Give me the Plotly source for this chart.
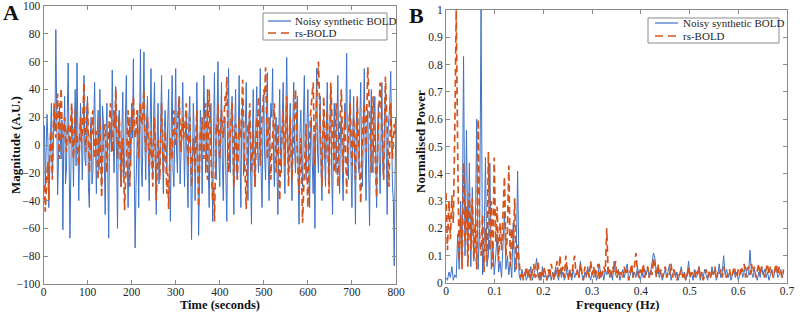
import numpy as np
import plotly.graph_objects as go

# ---------------- data ----------------
time_step = 2  # seconds between samples in panel A
noisy_bold = [
    5, 14, -30, -8, 22, 3, -45, -15, 12, 30, -22, -5, 28, 10, 83, 20, -36, -12, 30, 8,
    -10, 18, -61, 5, 35, -28, -18, 22, 59, -5, -67, -20, 25, 12, -30, 8, 40, -15, 59, 10,
    -40, -5, 30, 12, -25, 8, 50, -10, -15, 25, 35, -30, -45, 5, 20, -28, -20, 15, 45, 2,
    -35, 10, 25, -18, 40, 6, -30, 28, 15, -12, -50, 8, 30, -22, -67, 15, 10, -5, 54, 12,
    -20, 5, 42, -12, -60, 18, 25, -8, -30, 12, 38, -25, -15, 20, 50, -10, -45, -5, 20, -15,
    30, 5, 62, -20, -74, -30, 15, 25, -45, 10, 69, -15, -30, 20, 67, 5, -25, 18, 35, -10,
    -40, 12, 55, -8, -20, 22, 45, -15, -50, 5, 30, -28, -15, 15, 50, -5, -35, 10, 25, 3,
    -20, 18, 40, -10, -55, 12, 50, -18, -30, 8, 55, -5, -20, 25, 35, -28, -10, 15, 45, -12,
    -30, 8, 20, -15, -45, 20, 35, -8, -68, -20, 30, 10, -40, -12, 45, 5, -65, -25, 25, 12,
    -35, 5, 50, 15, -20, -5, 40, -18, -45, 12, 30, -10, -55, 8, 52, -15, -25, 20, 60, -8,
    -30, 10, 45, -12, -40, 15, 20, -25, -55, 8, 55, -15, -20, 22, 35, -5, -50, 12, 40, -18,
    -25, 8, 50, -10, -45, 18, 30, -22, -15, 12, 45, -5, -40, 15, 25, -18, -57, 5, 40, -12,
    -30, 15, 42, -5, -20, 10, 55, -20, -45, 12, 35, -8, -25, 18, 52, -12, -40, 5, 30, 20,
    55, -8, -30, 12, 20, -18, -50, 8, 40, -5, -20, 22, 45, -15, -35, 20, 63, 5, -25, 10,
    30, -12, -40, 18, 45, -5, -20, 15, 35, -22, -57, 8, 25, -10, -30, 20, 50, -8, -25, 12,
    40, -15, -45, 10, 20, -12, -35, 8, -60, 18, 55, -5, -20, 15, 35, -18, -40, 5, 25, -10,
    -30, 12, 45, -8, -25, 15, 40, -20, -50, 5, 30, -12, -20, 18, 50, -5, -35, 10, 20, -15,
    -40, 5, 30, 12, 66, -10, -25, 18, 40, -15, -45, 10, 35, -8, -57, 15, 30, -12, -20, 20,
    45, -10, -30, 15, 55, -5, -40, 12, 25, -18, -58, 8, 40, -15, -20, 20, 35, -8, -45, 10,
    30, -12, -35, 8, 45, -15, -25, 18, 40, -5, -50, 10, 20, 30, 53, 5, -30, -40, -87, -20,
    20,
]
rs_bold = [
    -35, -28, -48, -30, -20, -12, -40, -8, 10, 2, -25, 8, 30, 18, 5, 22, 37, 12, -10, 20,
    41, 15, 5, 12, 20, 3, -5, 10, 15, 6, 0, 18, 30, 5, -10, 12, 25, 2, 8, -8,
    -15, 5, 20, 2, 10, 28, 45, 12, -5, 15, 30, 4, -20, -2, 15, 8, 25, 6, -10, 2,
    10, -8, -25, 4, 20, -12, -38, -10, 5, 12, 15, -2, -20, 0, 10, 18, 30, 8, -5, 12,
    25, 12, 40, 15, -10, 6, 20, -5, -30, -12, 5, -20, -47, -25, -15, 8, 25, -5, -30, 2,
    20, 10, 35, 18, 5, 12, 25, 3, -10, 14, 30, 20, 15, 28, 40, 10, -5, 8, 20, 2,
    -15, -2, 10, -12, -30, 4, 20, -8, -40, -15, 5, -10, -25, 6, 30, 5, -20, -5, 10, -12,
    -35, -20, -46, -18, 5, -6, -10, 8, 25, 10, 0, 6, 15, 22, 35, 12, -5, 8, 20, 5,
    10, 18, 30, 8, -15, 4, 20, -6, -30, -10, 5, -8, -20, 6, 25, -12, -45, -18, 10, 4,
    20, 6, -10, 12, 30, 2, -25, 10, 40, 12, -15, -25, -40, -30, -55, -12, 15, 8, 30, 10,
    -10, 8, 25, 12, 5, 20, 35, 28, 49, 15, -20, -2, 10, 20, 30, 4, -30, -8, 15, 2,
    -25, -5, 20, 8, 5, 25, 47, 18, -10, -28, -46, -12, 15, 8, 30, 5, -20, -4, 10, -10,
    -30, -6, 20, 12, 35, 8, -15, 10, 25, 30, 40, 35, 56, 20, -10, 5, 20, -4, -25, -5,
    10, 22, 30, 5, -20, -4, 15, -10, -40, -12, 5, 14, 25, 6, -15, 10, 35, 4, -30, -6,
    20, -4, -25, -6, 10, 28, 40, 12, -10, -22, -35, -10, 5, -25, -56, -35, -20, -2, 15, -18,
    -45, -15, 10, 22, 30, 38, 45, 12, -15, 15, 40, 48, 60, 35, 20, -5, -30, 6, 35, 10,
    -10, 8, 25, -6, -35, 10, 45, 25, 10, -4, -20, 6, 30, -2, -30, -5, 15, 28, 40, 12,
    -20, 4, 25, -8, -35, -10, 10, 18, 30, 6, -15, 2, 20, -4, -25, 8, 35, 12, -10, -25,
    -42, -12, 15, 22, 30, 10, -5, 28, 56, 40, 25, 2, -20, 10, 35, 14, -10, -22, -38, -6,
    20, 32, 45, 25, 10, -8, -25, 15, 49, 30, 15, -6, -30, -2, 30, 8, -10, 4, 15, 8,
    20,
]

freq_step = 0.003  # Hz between spectral bins in panel B
noisy_power = [
    0.02, 0.01, 0.04, 0.02, 0.06, 0.01, 0.03, 0.02, 0.18, 0.05,
    0.30, 0.08, 0.83, 0.10, 0.56, 0.12, 0.44, 0.06, 0.35, 0.08,
    0.15, 0.60, 0.05, 0.20, 1.00, 0.03, 0.12, 0.46, 0.06, 0.10,
    0.44, 0.05, 0.15, 0.03, 0.10, 0.18, 0.04, 0.08, 0.02, 0.12,
    0.26, 0.05, 0.10, 0.03, 0.08, 0.02, 0.22, 0.04, 0.06, 0.41,
    0.03, 0.01, 0.05, 0.02, 0.04, 0.01, 0.03, 0.02, 0.06, 0.01,
    0.03, 0.05, 0.09, 0.02, 0.04, 0.01, 0.06, 0.02, 0.03, 0.01,
    0.02, 0.05, 0.01, 0.04, 0.02, 0.06, 0.03, 0.01, 0.05, 0.02,
    0.04, 0.01, 0.03, 0.06, 0.02, 0.04, 0.01, 0.05, 0.02, 0.03,
    0.05, 0.02, 0.08, 0.03, 0.01, 0.04, 0.02, 0.06, 0.03, 0.01,
    0.04, 0.02, 0.05, 0.01, 0.03, 0.07, 0.02, 0.04, 0.01, 0.05,
    0.03, 0.06, 0.02, 0.04, 0.01, 0.08, 0.03, 0.02, 0.05, 0.01,
    0.03, 0.05, 0.02, 0.04, 0.07, 0.01, 0.03, 0.05, 0.02, 0.04,
    0.02, 0.06, 0.03, 0.01, 0.04, 0.02, 0.05, 0.03, 0.06, 0.02,
    0.04, 0.08, 0.11, 0.09, 0.03, 0.05, 0.02, 0.04, 0.01, 0.03,
    0.05, 0.02, 0.04, 0.07, 0.01, 0.03, 0.05, 0.02, 0.04, 0.01,
    0.03, 0.06, 0.02, 0.04, 0.01, 0.03, 0.08, 0.02, 0.04, 0.01,
    0.05, 0.02, 0.03, 0.06, 0.01, 0.04, 0.02, 0.05, 0.03, 0.01,
    0.04, 0.02, 0.06, 0.03, 0.05, 0.01, 0.03, 0.07, 0.02, 0.04,
    0.10, 0.03, 0.05, 0.02, 0.04, 0.01, 0.03, 0.05, 0.02, 0.04,
    0.01, 0.03, 0.05, 0.02, 0.04, 0.06, 0.02, 0.03, 0.12, 0.04,
    0.02, 0.05, 0.03, 0.01, 0.04, 0.02, 0.06, 0.03, 0.05, 0.02,
    0.04, 0.01, 0.03, 0.05, 0.02, 0.04, 0.06, 0.02, 0.03, 0.05,
    0.02, 0.04,
]
rs_power = [
    0.33, 0.12, 0.30, 0.16, 0.32, 0.22, 0.55, 1.00, 0.48, 0.08,
    0.25, 0.05, 0.44, 0.15, 0.28, 0.06, 0.33, 0.12, 0.31, 0.09,
    0.22, 0.05, 0.60, 0.18, 0.10, 0.25, 0.04, 0.20, 0.08, 0.48,
    0.12, 0.30, 0.06, 0.46, 0.15, 0.28, 0.08, 0.22, 0.12, 0.30,
    0.39, 0.10, 0.18, 0.43, 0.06, 0.20, 0.12, 0.31, 0.05, 0.14,
    0.08, 0.02, 0.04, 0.01, 0.03, 0.06, 0.02, 0.05, 0.01, 0.04,
    0.07, 0.02, 0.03, 0.08, 0.01, 0.04, 0.02, 0.06, 0.03, 0.01,
    0.05, 0.02, 0.07, 0.03, 0.01, 0.04, 0.08, 0.02, 0.10, 0.03,
    0.06, 0.02, 0.10, 0.04, 0.01, 0.05, 0.02, 0.07, 0.10, 0.03,
    0.05, 0.02, 0.07, 0.04, 0.01, 0.06, 0.03, 0.05, 0.02, 0.08,
    0.03, 0.06, 0.02, 0.04, 0.07, 0.01, 0.05, 0.03, 0.06, 0.04,
    0.20, 0.03, 0.05, 0.02, 0.06, 0.04, 0.08, 0.02, 0.05, 0.03,
    0.04, 0.02, 0.06, 0.03, 0.05, 0.01, 0.04, 0.07, 0.02, 0.06,
    0.11, 0.04, 0.02, 0.05, 0.03, 0.07, 0.02, 0.04, 0.06, 0.02,
    0.05, 0.03, 0.09, 0.06, 0.02, 0.07, 0.03, 0.05, 0.02, 0.04,
    0.06, 0.02, 0.04, 0.03, 0.07, 0.02, 0.05, 0.03, 0.01, 0.04,
    0.03, 0.05, 0.02, 0.04, 0.01, 0.03, 0.06, 0.02, 0.04, 0.03,
    0.02, 0.05, 0.03, 0.06, 0.02, 0.04, 0.01, 0.03, 0.05, 0.02,
    0.04, 0.02, 0.05, 0.03, 0.06, 0.02, 0.04, 0.03, 0.05, 0.02,
    0.06, 0.03, 0.02, 0.04, 0.05, 0.02, 0.03, 0.06, 0.04, 0.02,
    0.05, 0.03, 0.06, 0.04, 0.07, 0.02, 0.05, 0.06, 0.03, 0.07,
    0.04, 0.06, 0.02, 0.05, 0.07, 0.03, 0.06, 0.04, 0.02, 0.05,
    0.07, 0.03, 0.06, 0.04, 0.02, 0.05, 0.07, 0.03, 0.06, 0.04,
    0.02, 0.05,
]

series_names = ["Noisy synthetic BOLD", "rs-BOLD"]
panel_labels = ["A", "B"]
a_xticks = [0, 100, 200, 300, 400, 500, 600, 700, 800]
a_yticks = [-100, -80, -60, -40, -20, 0, 20, 40, 60, 80, 100]
b_xticks = [0, 0.1, 0.2, 0.3, 0.4, 0.5, 0.6, 0.7]
b_yticks = [0, 0.1, 0.2, 0.3, 0.4, 0.5, 0.6, 0.7, 0.8, 0.9, 1]

# ---------------- figure ----------------
time_a = np.arange(len(noisy_bold)) * time_step
freq_b = np.arange(len(noisy_power)) * freq_step

BLUE = "#3e71c5"
ORANGE = "#d4531b"
FONT = "Liberation Serif, Times New Roman, serif"
AX = "#8a8a8a"
TXT = "#262626"
DASH = "7px,4px"

fig = go.Figure()
fig.add_trace(go.Scatter(x=time_a, y=noisy_bold, mode="lines", name=series_names[0],
                         line=dict(color=BLUE, width=1), xaxis="x", yaxis="y"))
fig.add_trace(go.Scatter(x=time_a, y=rs_bold, mode="lines", name=series_names[1],
                         line=dict(color=ORANGE, width=1.7, dash=DASH), xaxis="x", yaxis="y"))
fig.add_trace(go.Scatter(x=freq_b, y=noisy_power, mode="lines", name=series_names[0],
                         line=dict(color=BLUE, width=1), xaxis="x2", yaxis="y2"))
fig.add_trace(go.Scatter(x=freq_b, y=rs_power, mode="lines", name=series_names[1],
                         line=dict(color=ORANGE, width=1.7, dash=DASH), xaxis="x2", yaxis="y2"))

def axis(domain, rng, ticks, anchor, fmt=None, standoff=0):
    d = dict(domain=domain, range=rng, tickvals=ticks, anchor=anchor,
             showline=True, linecolor=AX, linewidth=1, mirror="ticks",
             ticks="inside", ticklen=4, tickcolor=AX, showgrid=False, zeroline=False,
             tickfont=dict(family=FONT, size=11.5, color=TXT), automargin=False,
             ticklabelstandoff=standoff)
    if fmt:
        d["ticktext"] = fmt
    return d

W, H = 800, 317
fig.update_layout(
    width=W, height=H, margin=dict(l=0, r=0, t=0, b=0),
    paper_bgcolor="white", plot_bgcolor="white",
    font=dict(family=FONT, color=TXT),
    xaxis=axis([43.5 / W, 396 / W], [0, 800], a_xticks, "y", standoff=-3),
    yaxis=axis([1 - 284 / H, 1 - 6 / H], [-100, 100], a_yticks, "x"),
    xaxis2=axis([446 / W, 787 / W], [0, 0.7], b_xticks, "y2", [str(v) for v in b_xticks], standoff=-3),
    yaxis2=axis([1 - 283 / H, 1 - 10 / H], [0, 1], b_yticks, "x2", [str(v) for v in b_yticks]),
    showlegend=False,
)

# ---- compact legends (box, line samples, labels) ----
def px(x):
    return x / W

def py(y):
    return 1 - y / H

shapes = []
ann = []
for (bx0, bx1, by0, by1, lx0, lx1, tx, r1, r2) in [
        (263, 387, 13, 40, 268, 291, 293, 21, 33),
        (648, 779, 18, 43, 655, 678, 681, 23, 36)]:
    shapes.append(dict(type="rect", xref="paper", yref="paper", x0=px(bx0), x1=px(bx1),
                       y0=py(by1), y1=py(by0), line=dict(color=AX, width=1), fillcolor="white",
                       layer="above"))
    shapes.append(dict(type="line", xref="paper", yref="paper", x0=px(lx0), x1=px(lx1),
                       y0=py(r1), y1=py(r1), line=dict(color=BLUE, width=1.2), layer="above"))
    shapes.append(dict(type="line", xref="paper", yref="paper", x0=px(lx0), x1=px(lx1),
                       y0=py(r2), y1=py(r2), line=dict(color=ORANGE, width=1.5, dash="8px,5px"),
                       layer="above"))
    ann.append(dict(text=series_names[0], x=px(tx), y=py(r1), xanchor="left",
                    font=dict(size=11, color=TXT)))
    ann.append(dict(text=series_names[1], x=px(tx), y=py(r2), xanchor="left",
                    font=dict(size=11, color=TXT)))

ann += [
    dict(text="<b>A</b>", x=11 / W, y=1 - 13 / H, font=dict(size=22, color="#111111")),
    dict(text="<b>B</b>", x=416 / W, y=1 - 15 / H, font=dict(size=22, color="#111111")),
    dict(text="<b>Time (seconds)</b>", x=220 / W, y=1 - 305 / H, font=dict(size=12.5, color="#111111")),
    dict(text="<b>Frequency (Hz)</b>", x=617 / W, y=1 - 305 / H, font=dict(size=12.5, color="#111111")),
    dict(text="<b>Magnitude (A.U.)</b>", x=15 / W, y=1 - 145 / H, textangle=-90,
         font=dict(size=13, color="#111111")),
    dict(text="<b>Normalised Power</b>", x=420 / W, y=1 - 142 / H, textangle=-90,
         font=dict(size=13, color="#111111")),
]
for a in ann:
    a.setdefault("xanchor", "center")
    a.update(xref="paper", yref="paper", showarrow=False, yanchor="middle")
    a["font"].update(family=FONT)
fig.update_layout(annotations=ann, shapes=shapes)

fig.write_html("out.html", config={"displayModeBar": False},
               post_script="document.body.style.margin='0';document.body.style.overflow='hidden';")
